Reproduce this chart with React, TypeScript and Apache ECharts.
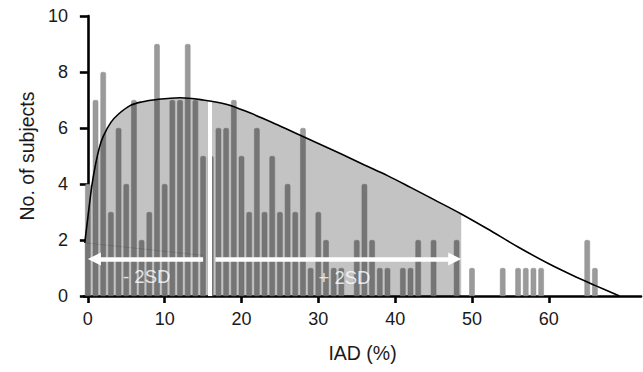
import React, { useEffect, useRef } from "react";
import * as echarts from "echarts";

// IAD (%) bins (integer centres) and number of subjects per bin
const binCenters: number[] = Array.from({ length: 67 }, (_, i) => i);
const counts: number[] = [
  4, 7, 8, 3, 6, 4, 7, 2, 3, 9,
  4, 7, 7, 9, 7, 5, 5, 6, 6, 7,
  5, 3, 6, 3, 5, 3, 4, 3, 6, 1,
  3, 2, 1, 1, 0, 2, 4, 2, 1, 1,
  0, 1, 1, 2, 0, 2, 0, 0, 2, 0,
  1, 0, 0, 0, 1, 0, 1, 1, 1, 1,
  0, 0, 0, 0, 0, 2, 1,
];

// fitted distribution curve
const curveX: number[] = [-0.4, 0, 0.5, 1, 1.5, 2, 3, 4, 5.5, 7, 9, 12, 15, 18, 21, 24, 27, 30, 33, 36, 39, 42, 45, 48.6, 52, 56, 60, 63, 66, 69.2];
const curveY: number[] = [1.9, 2.8, 3.9, 4.7, 5.3, 5.7, 6.2, 6.5, 6.8, 6.93, 7.02, 7.08, 7.0, 6.85, 6.55, 6.2, 5.82, 5.45, 5.07, 4.68, 4.3, 3.88, 3.45, 2.93, 2.4, 1.75, 1.15, 0.75, 0.38, 0];

// shaded range limit (+2SD), mean line
const shadeEnd = 48.6;
const meanX = 15.85;
const meanTop = 6.97;

// arrows (start, end) at y level
const arrowY = 1.32;
const leftArrow: number[] = [15.0, 0.85];
const rightArrow: number[] = [16.6, 47.75];

// faint line near the bottom left
const faintX: number[] = [-0.4, 15.0];
const faintY: number[] = [1.9, 1.45];

// annotation labels
const labelTexts: string[] = ["- 2SD", "+ 2SD"];
const labelX: number[] = [7.66, 33.4];
const labelY: number[] = [0.68, 0.66];

const xTicks: number[] = [0, 10, 20, 30, 40, 50, 60];

const FONT = "'Liberation Sans', Arial, Helvetica, sans-serif";

export default function App() {
  const ref = useRef<HTMLDivElement>(null);

  useEffect(() => {
    document.body.style.margin = "0";
    if (!ref.current) return;
    const chart = echarts.init(ref.current, undefined, { renderer: "svg" });

    const barData = binCenters
      .map((x, i) => [x, counts[i]])
      .filter((d) => d[1] > 0);
    const curveData = curveX.map((x, i) => [x, curveY[i]]);
    const areaData = curveData.filter((d) => d[0] <= shadeEnd);

    const option: any = {
      animation: false,
      textStyle: { fontFamily: FONT },
      grid: { left: 84, right: 2, top: 16, bottom: 76, containLabel: false },
      xAxis: {
        type: "value",
        min: -0.5,
        max: 72,
        name: "IAD (%)",
        nameLocation: "middle",
        nameGap: 47,
        nameTextStyle: { fontSize: 19.5, color: "#1a1a1a", fontFamily: FONT },
        axisLine: { show: true, lineStyle: { color: "#000", width: 2.6 } },
        axisTick: { show: true, length: 7, lineStyle: { color: "#000", width: 2.6 }, customValues: xTicks },
        axisLabel: { fontSize: 18, color: "#1a1a1a", margin: 14, fontFamily: FONT, customValues: xTicks },
        splitLine: { show: false },
      },
      yAxis: {
        type: "value",
        min: 0,
        max: 10,
        interval: 2,
        name: "No. of subjects",
        nameLocation: "middle",
        nameGap: 44,
        nameTextStyle: { fontSize: 19.5, color: "#1a1a1a", fontFamily: FONT },
        axisLine: { show: true, lineStyle: { color: "#000", width: 2.6 } },
        axisTick: { show: true, length: 8, lineStyle: { color: "#000", width: 2.6 } },
        axisLabel: { fontSize: 18, color: "#1a1a1a", margin: 16, fontFamily: FONT },
        splitLine: { show: false },
      },
      series: [
        {
          type: "bar",
          data: barData,
          barWidth: 5.5,
          z: 2,
          itemStyle: { color: "#9a9a9a", borderRadius: [1.5, 1.5, 0, 0], borderColor: "#8e8e8e", borderWidth: 0.5 },
          silent: true,
        },
        {
          type: "line",
          data: areaData,
          smooth: 0.35,
          showSymbol: false,
          z: 3,
          lineStyle: { width: 0, opacity: 0 },
          areaStyle: { color: "rgba(0,0,0,0.235)", opacity: 1 },
          silent: true,
        },
        {
          type: "line",
          data: faintX.map((x, i) => [x, faintY[i]]),
          showSymbol: false,
          z: 4,
          lineStyle: { width: 0.8, color: "rgba(0,0,0,0.15)" },
          silent: true,
        },
        {
          type: "line",
          data: [],
          z: 6,
          silent: true,
          markLine: {
            silent: true,
            animation: false,
            label: { show: false },
            data: [
              [
                { coord: [meanX, 0], symbol: "none", lineStyle: { color: "#fff", width: 4, type: "solid" } },
                { coord: [meanX, meanTop], symbol: "none" },
              ],
              [
                { coord: [leftArrow[0], arrowY], symbol: "none", lineStyle: { color: "#fff", width: 4.5, type: "solid" } },
                { coord: [leftArrow[1], arrowY], symbol: "triangle", symbolSize: 13 },
              ],
              [
                { coord: [rightArrow[0], arrowY], symbol: "none", lineStyle: { color: "#fff", width: 4.5, type: "solid" } },
                { coord: [rightArrow[1], arrowY], symbol: "triangle", symbolSize: 13 },
              ],
            ],
            itemStyle: { color: "#fff" },
            lineStyle: { color: "#fff" },
          },
        },
        {
          type: "line",
          data: curveData,
          smooth: 0.35,
          showSymbol: false,
          z: 7,
          lineStyle: { color: "#000", width: 1.6 },
          silent: true,
        },
        {
          type: "scatter",
          data: labelTexts.map((t, i) => [labelX[i], labelY[i], t]),
          symbolSize: 1,
          z: 8,
          itemStyle: { color: "rgba(0,0,0,0)" },
          label: {
            show: true,
            position: "inside",
            color: "#fff",
            fontSize: 18.5,
            fontFamily: FONT,
            formatter: (p: any) => p.data[2],
          },
          silent: true,
        },
      ],
    };
    chart.setOption(option);
    return () => chart.dispose();
  }, []);

  return <div ref={ref} style={{ width: 643, height: 372 }} />;
}
